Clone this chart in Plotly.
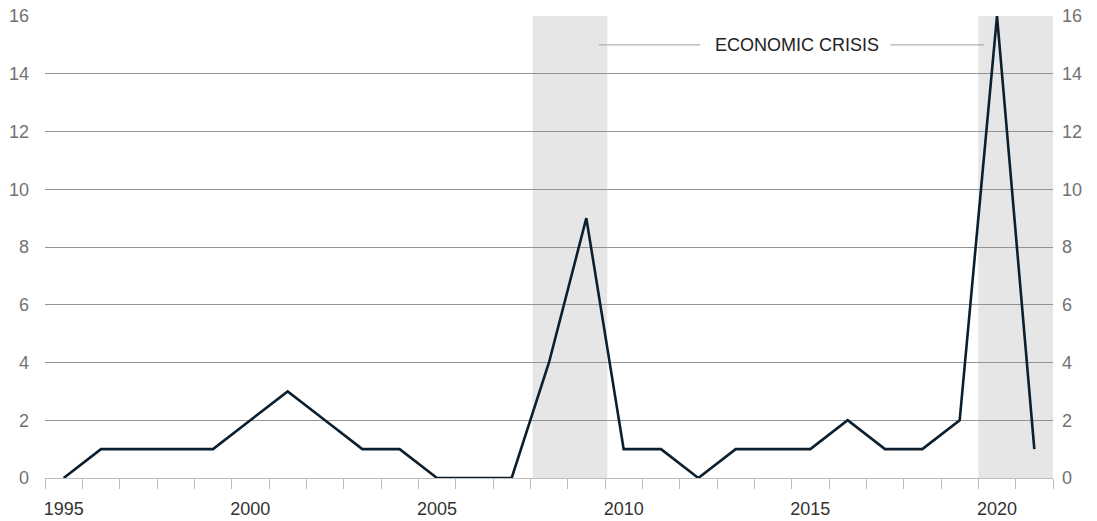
import plotly.graph_objects as go

years = list(range(1995, 2022))
values = [0, 1, 1, 1, 1, 2, 3, 2, 1, 1, 0, 0, 0, 4, 9, 1, 1, 0, 1, 1, 1, 2, 1, 1, 2, 16, 1]
crisis_periods = [(2007.56, 2009.56), (2019.5, 2021.5)]
label_years = [1995, 2000, 2005, 2010, 2015, 2020]
y_ticks = [0, 2, 4, 6, 8, 10, 12, 14, 16]
annotation_text = "ECONOMIC CRISIS"
annotation_x = 2014.64
annotation_y = 15
annotation_left_line = (2009.34, 2012.05)
annotation_right_line = (2017.14, 2019.65)

FONT = "Liberation Sans"
TICK_COLOR = "#727272"
GRID_COLOR = "#939393"

fig = go.Figure()
fig.add_trace(go.Scatter(
    x=years, y=values, mode="lines",
    line=dict(color="#0c1f2e", width=2.6),
    hoverinfo="x+y", showlegend=False,
))
fig.add_trace(go.Scatter(
    x=years, y=values, mode="lines", yaxis="y2",
    line=dict(color="rgba(0,0,0,0)", width=0),
    hoverinfo="skip", showlegend=False,
))

for x0, x1 in crisis_periods:
    fig.add_shape(type="rect", xref="x", yref="paper", x0=x0, x1=x1, y0=0, y1=1,
                  fillcolor="#e6e6e6", line=dict(width=0), layer="below")

for x0, x1 in (annotation_left_line, annotation_right_line):
    fig.add_shape(type="line", xref="x", yref="y", x0=x0, x1=x1,
                  y0=annotation_y, y1=annotation_y,
                  line=dict(color="#a0a0a0", width=1), layer="above")

fig.add_annotation(x=annotation_x, y=annotation_y, xref="x", yref="y",
                   text=annotation_text, showarrow=False,
                   font=dict(family=FONT, size=18, color="#222222"))

fig.update_layout(
    width=1097, height=521,
    margin=dict(l=45, r=44, t=16, b=43, autoexpand=False),
    paper_bgcolor="white", plot_bgcolor="white",
    xaxis=dict(
        range=[1994.5, 2021.5], automargin=False,
        tickmode="array", tickvals=label_years,
        ticktext=[str(y) for y in label_years],
        ticks="", showgrid=False, zeroline=False,
        showline=True, linecolor="#bdbdbd", linewidth=1,
        tickfont=dict(family=FONT, size=18, color="#333333"),
        ticklabelstandoff=14,
        minor=dict(tickmode="array", tickvals=[y - 0.5 for y in years] + [years[-1] + 0.5],
                   ticks="outside", ticklen=10, tickcolor="#bdbdbd", tickwidth=1, showgrid=False),
    ),
    yaxis=dict(
        range=[0, 16], tickmode="array", tickvals=y_ticks, automargin=False,
        showgrid=True, gridcolor=GRID_COLOR, gridwidth=1,
        zeroline=False, showline=False, ticks="",
        tickfont=dict(family=FONT, size=18, color=TICK_COLOR),
        ticklabelstandoff=15,
    ),
    yaxis2=dict(
        range=[0, 16], tickmode="array", tickvals=y_ticks, automargin=False,
        overlaying="y", side="right", showgrid=False,
        zeroline=False, showline=False, ticks="",
        tickfont=dict(family=FONT, size=18, color=TICK_COLOR),
        ticklabelstandoff=8,
    ),
)

fig.write_html("out.html", config={"displayModeBar": False},
               post_script="document.body.style.margin='0';document.body.style.overflow='hidden';")
